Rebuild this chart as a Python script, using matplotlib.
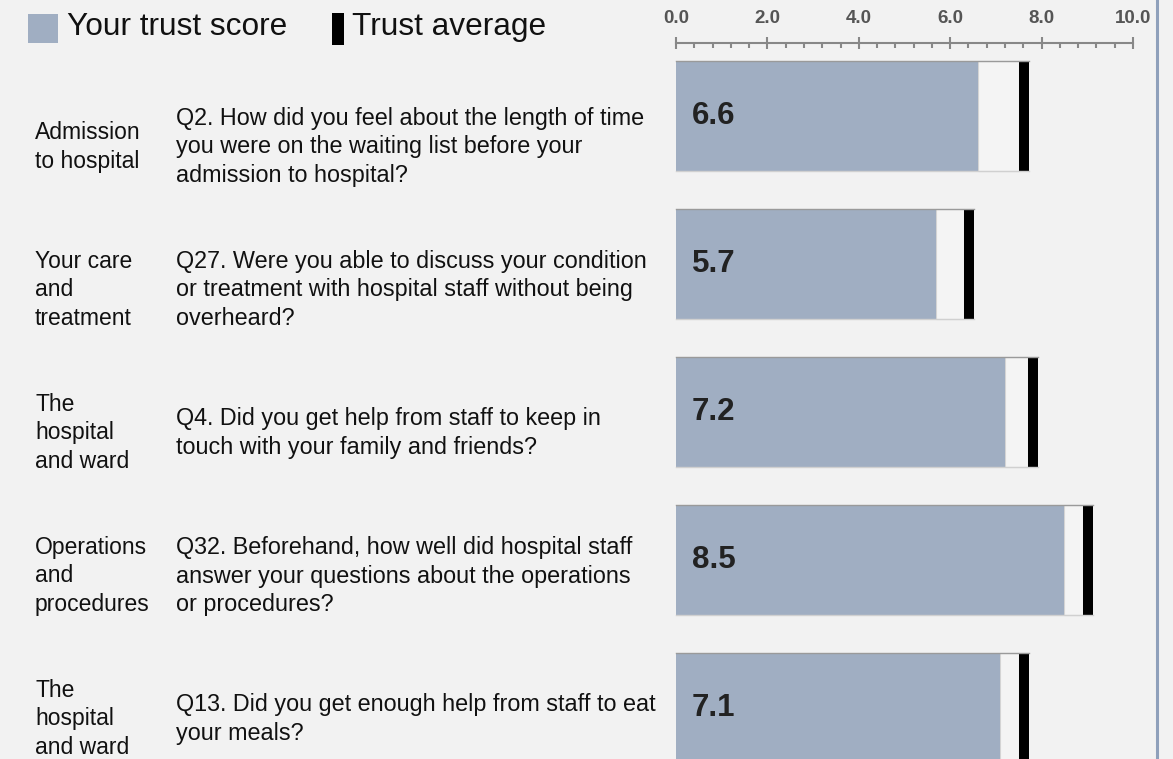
import numpy as np
import matplotlib.pyplot as plt
from matplotlib.patches import Rectangle

plt.rcParams['font.family'] = ['Liberation Sans', 'DejaVu Sans']

sections = ["Admission\nto hospital",
            "Your care\nand\ntreatment",
            "The\nhospital\nand ward",
            "Operations\nand\nprocedures",
            "The\nhospital\nand ward"]
questions = ["Q2. How did you feel about the length of time\nyou were on the waiting list before your\nadmission to hospital?",
             "Q27. Were you able to discuss your condition\nor treatment with hospital staff without being\noverheard?",
             "Q4. Did you get help from staff to keep in\ntouch with your family and friends?",
             "Q32. Beforehand, how well did hospital staff\nanswer your questions about the operations\nor procedures?",
             "Q13. Did you get enough help from staff to eat\nyour meals?"]
trust_score = [6.6, 5.7, 7.2, 8.5, 7.1]
trust_average = [7.5, 6.3, 7.7, 8.9, 7.5]
tick_values = [0.0, 2.0, 4.0, 6.0, 8.0, 10.0]

W, H = 1173, 759
bg = '#f2f2f2'
bar_col = '#a0aec2'

fig = plt.figure(figsize=(W / 100, H / 100), dpi=100)
fig.patch.set_facecolor(bg)

# bar panel: x=0 at px 676, x=10 at px 1133; rows 148 px apart
ax = fig.add_axes([676 / W, 0, 457 / W, 704 / H])
ax.set_facecolor(bg)
ax.set_xlim(0, 10)
ax.set_ylim(4.345, -0.412)
bh = 110 / 148
marker_w = 0.23

for i, (s, a) in enumerate(zip(trust_score, trust_average)):
    top = i - bh / 2
    ax.add_patch(Rectangle((s, top), a - s, bh, facecolor='#f4f4f4',
                           edgecolor='#d4d4d4', lw=0.8, clip_on=False))
    ax.add_patch(Rectangle((0, top), s, bh, facecolor=bar_col,
                           edgecolor='none', clip_on=False))
    ax.add_patch(Rectangle((a, top), marker_w, bh, facecolor='black',
                           edgecolor='none', clip_on=False))
    ax.plot([0, a + marker_w], [top, top], color='#9a9a9a', lw=1, clip_on=False)
    ax.plot([0, a + marker_w], [top + bh, top + bh], color='#d0d0d0', lw=1, clip_on=False)
    ax.text(0.35, i, f"{s:.1f}", fontsize=22.5, fontweight='bold', color='#222222',
            va='center', ha='left')

for sp in ['left', 'right', 'bottom']:
    ax.spines[sp].set_visible(False)
ax.spines['top'].set_position(('outward', 9))
ax.spines['top'].set_color('#888888')
ax.spines['top'].set_linewidth(1.5)
ax.xaxis.tick_top()
ax.set_xticks(tick_values)
ax.set_xticklabels([f"{t:.1f}" for t in tick_values], fontsize=13.5,
                   fontweight='bold', color='#555555')
ax.set_xticks(np.arange(0, 10.01, 0.4), minor=True)
ax.tick_params(axis='x', which='major', direction='inout', length=8,
               width=1.5, color='#888888', pad=7)
ax.tick_params(axis='x', which='minor', direction='in', length=3.5,
               width=1.5, color='#888888')
ax.set_yticks([])

# row texts
for i, (sec, q) in enumerate(zip(sections, questions)):
    yc = 1 - (147 + 143 * i) / H
    fig.text(35 / W, yc, sec, fontsize=16.5, va='center', ha='left',
             color='#111111', linespacing=1.3)
    fig.text(176 / W, yc, q, fontsize=16.8, va='center', ha='left',
             color='#111111', linespacing=1.3)

# legend
fig.patches.append(Rectangle((28 / W, 1 - 43 / H), 30 / W, 29 / H,
                             transform=fig.transFigure, facecolor=bar_col,
                             edgecolor='none'))
fig.text(67 / W, 1 - 27 / H, "Your trust score", fontsize=22.8, va='center',
         ha='left', color='#111111')
fig.patches.append(Rectangle((332 / W, 1 - 45 / H), 12 / W, 32 / H,
                             transform=fig.transFigure, facecolor='black',
                             edgecolor='none'))
fig.text(352 / W, 1 - 27 / H, "Trust average", fontsize=22.8, va='center',
         ha='left', color='#111111')

# right border
fig.add_artist(plt.Line2D([1157 / W, 1157 / W], [0, 1], color='#8fa0bb',
                          lw=2.2, transform=fig.transFigure))

fig.savefig('out.png', dpi=100, facecolor=bg)
